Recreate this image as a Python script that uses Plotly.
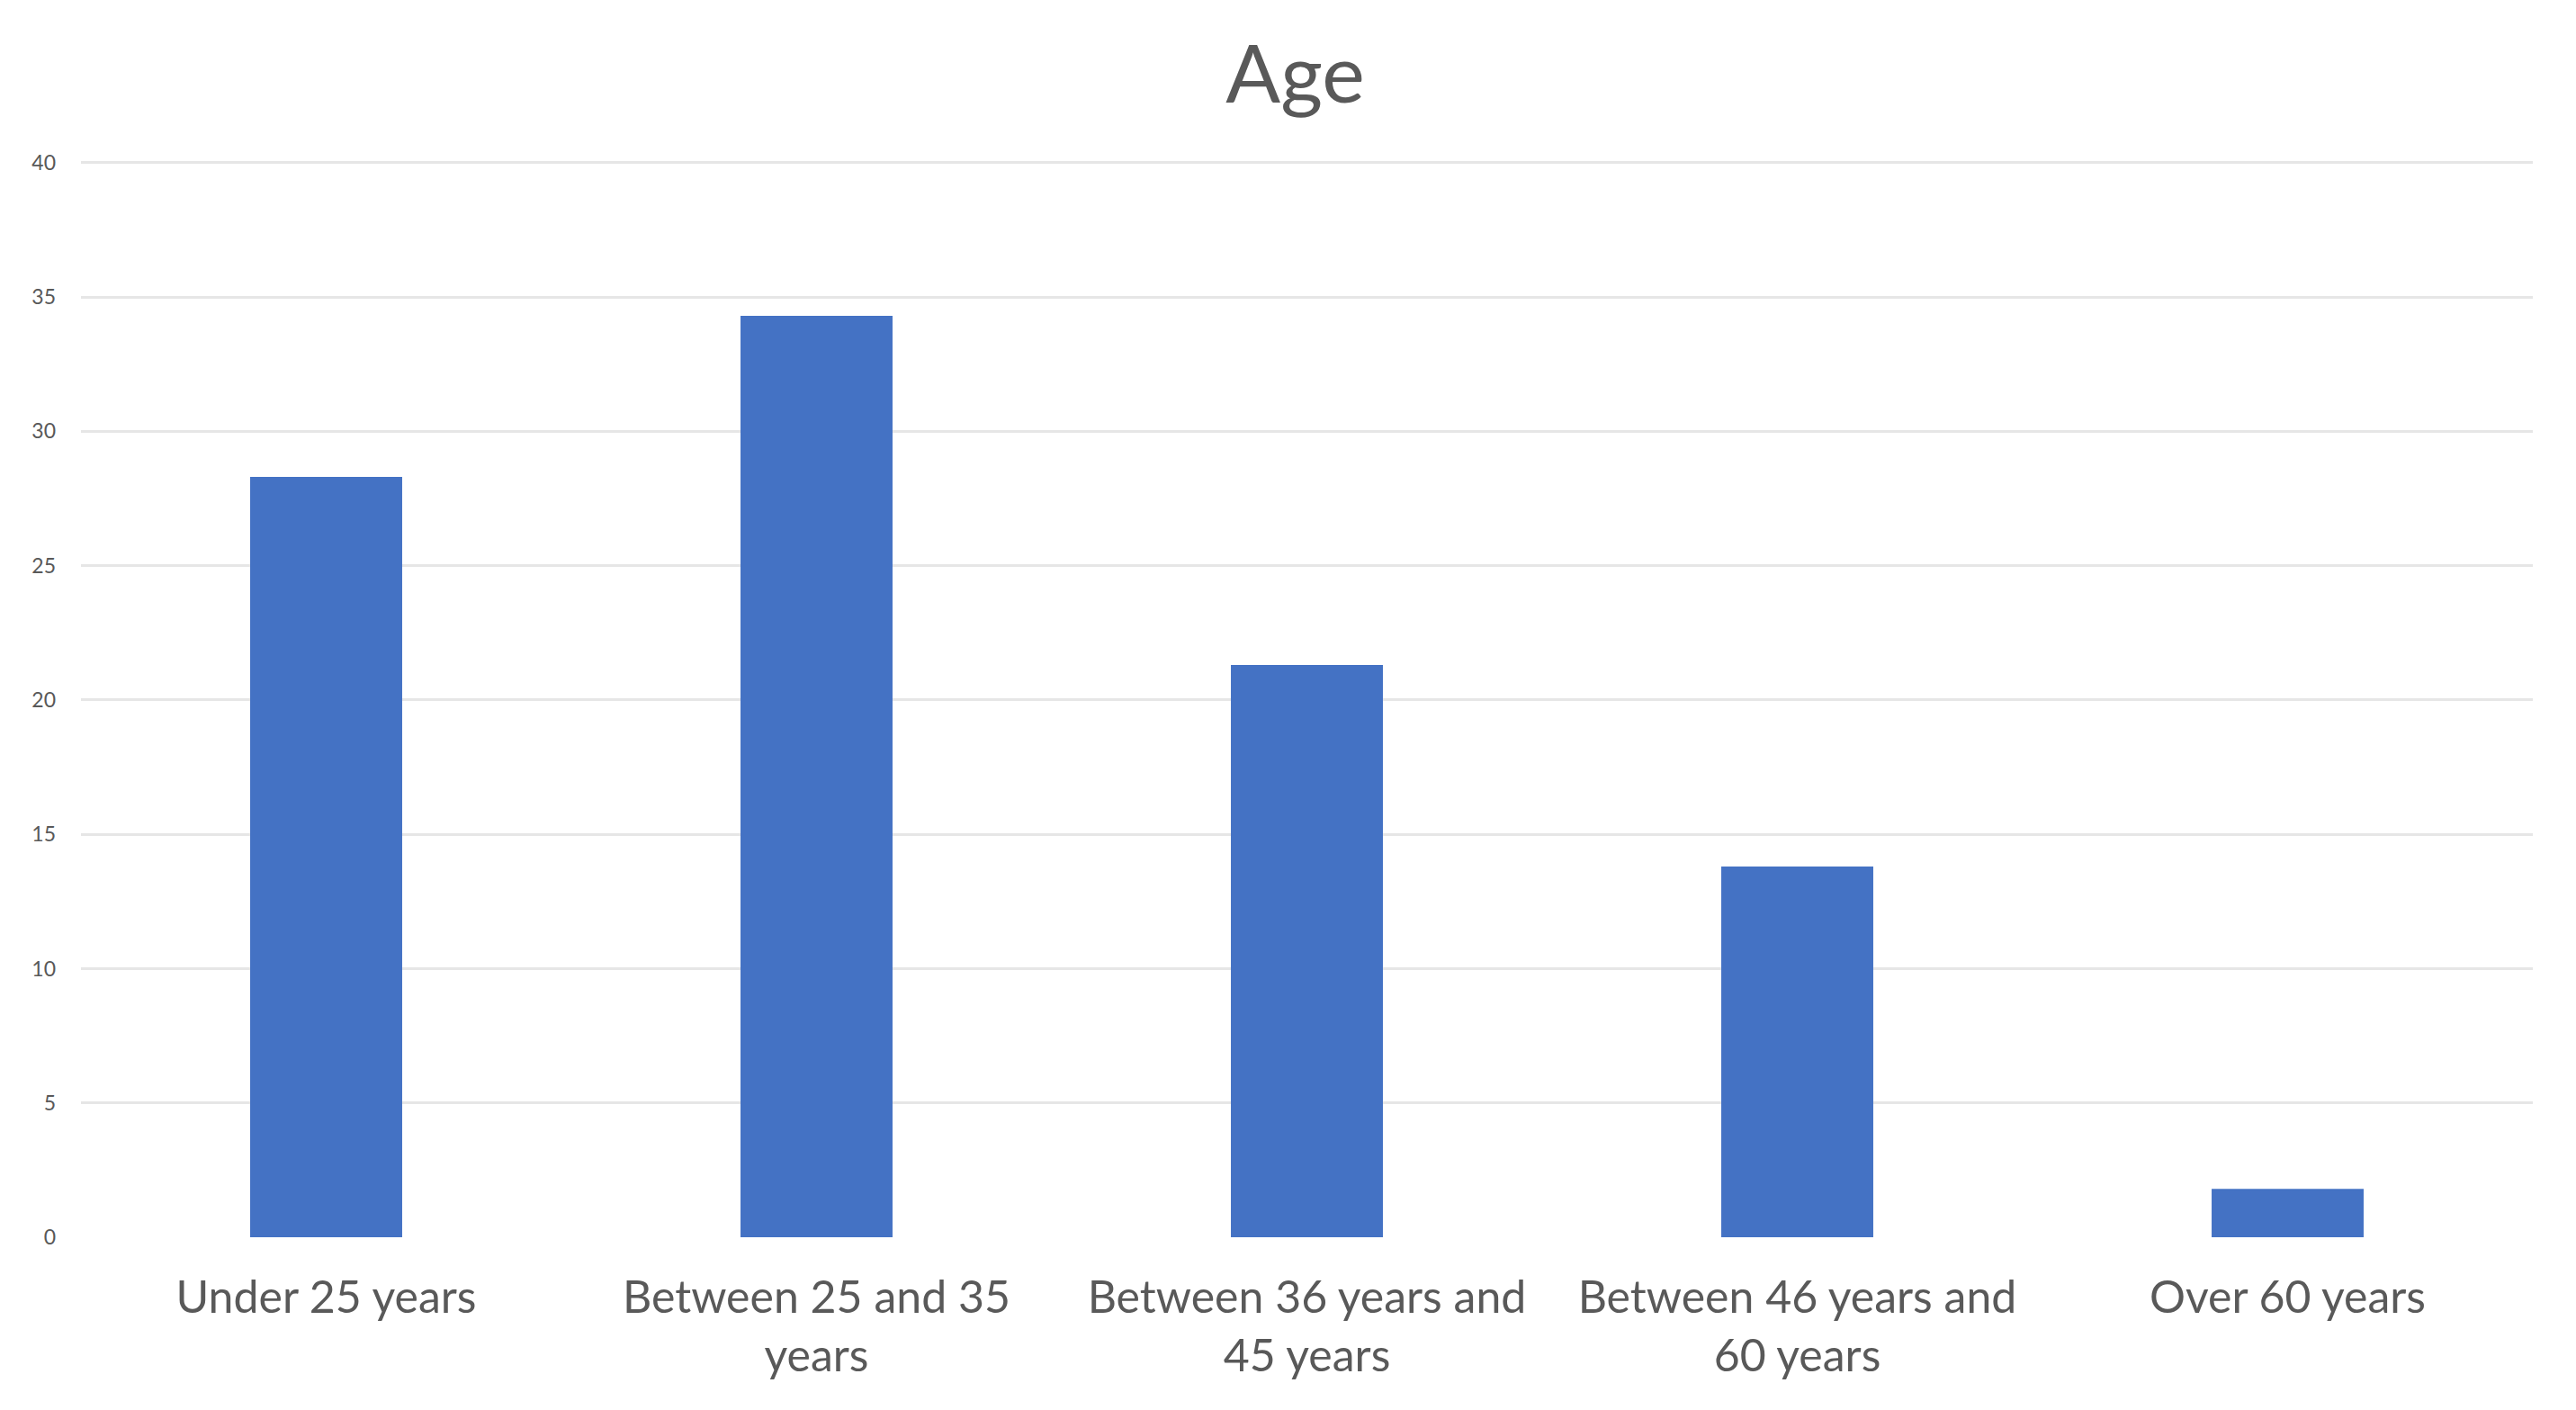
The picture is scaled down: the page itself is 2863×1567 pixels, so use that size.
import plotly.graph_objects as go

categories = ["Under 25 years", "Between 25 and 35<br>years", "Between 36 years and<br>45 years",
              "Between 46 years and<br>60 years", "Over 60 years"]
values = [28.3, 34.3, 21.3, 13.8, 1.8]
y_ticks = [0, 5, 10, 15, 20, 25, 30, 35, 40]

W, H = 2863, 1567
fig = go.Figure(go.Bar(x=categories, y=values, marker=dict(color="#4472C4", line=dict(width=0))))

fig.update_layout(
    width=W, height=H,
    paper_bgcolor="white", plot_bgcolor="white",
    margin=dict(l=82, r=56, t=171, b=200, autoexpand=False),
    bargap=0.69,
    showlegend=False,
    font=dict(family="Lato, Open Sans, sans-serif", color="#595959"),
    title=dict(text="Age", x=0.5, xanchor="center", y=1 - 74 / H, yanchor="middle",
               yref="container", font=dict(size=90, color="#595959")),
)
fig.update_xaxes(showgrid=False, showline=False, zeroline=False, ticks="",
                 tickfont=dict(size=50, color="#595959"), ticklabelstandoff=33)
fig.update_yaxes(range=[0, 40.06], tickvals=y_ticks, showgrid=True, gridcolor="#E6E6E6", gridwidth=3,
                 zeroline=False, showline=False, ticks="",
                 tickfont=dict(size=23, color="#595959"), ticklabelstandoff=27)

fig.write_html("out.html")
